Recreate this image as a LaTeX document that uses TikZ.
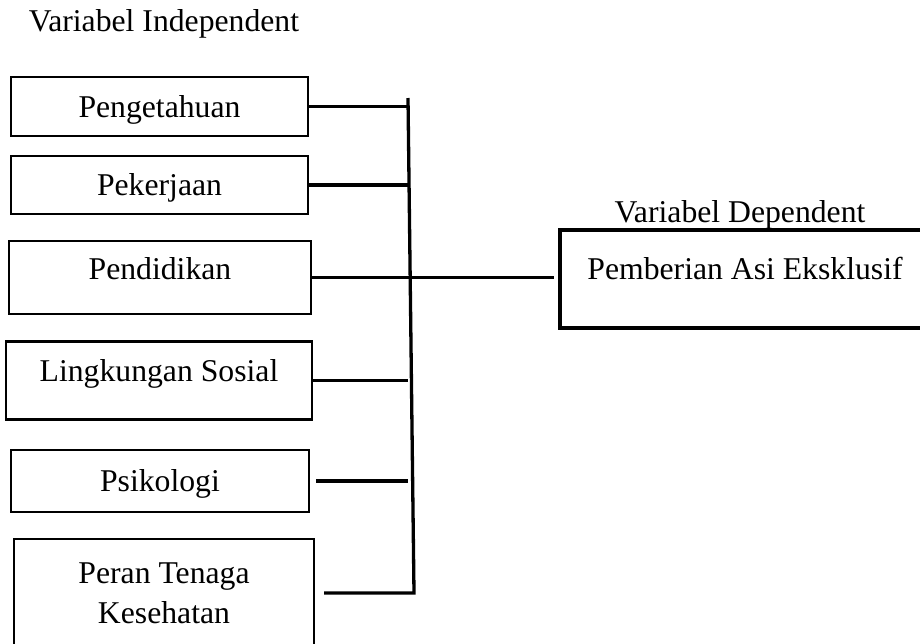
\documentclass[tikz,border=0pt]{standalone}
\usepackage{fontspec}
\setmainfont{Liberation Serif}

\tikzset{
	txt/.style={font=\fontsize{15.85}{20}\selectfont},
	lift/.style={text height=13pt, text depth=#1},
	lift/.default=2.5pt,
	varbox/.style={txt, draw, line width=1.15pt},
	bus/.style={line width=1.65pt}
}

\begin{document}
\begin{tikzpicture}[x=0.5pt, y=-0.5pt]
		\useasboundingbox (0,0) rectangle (920,643);
		\clip (0,0) rectangle (920,643);
		\node[txt, lift] (indep) at (164,21) {Variabel Independent};
		\node[varbox, lift, minimum width=148.5pt, minimum height=29.5pt] (p1) at (159.5,106.5) {Pengetahuan};
		\node[varbox, lift, minimum width=148.5pt, minimum height=29pt] (p2) at (159.5,185) {Pekerjaan};
		\node[varbox, lift=11pt, minimum width=151pt, minimum height=36.5pt] (p3) at (160,277.5) {Pendidikan};
		\node[varbox, lift=12.5pt, minimum width=153pt, minimum height=39pt] (p4) at (159,380.5) {Lingkungan Sosial};
		\node[varbox, lift, minimum width=149pt, minimum height=31pt] (p5) at (160,481) {Psikologi};
		\node[varbox, align=center, minimum width=150pt, minimum height=54pt] (p6) at (164,593) {Peran Tenaga\\Kesehatan};
		\node[txt, lift] (depl) at (740,212) {Variabel Dependent};
		\node[varbox, lift=13pt, line width=2.35pt, minimum width=185pt, minimum height=49pt] (dep) at (745,279) {Pemberian Asi Eksklusif};
		
		\coordinate (top) at (408,98);
		\coordinate (bot) at (414,593);
		\draw[bus, shorten <=4.5pt] (p6.east) -- (bot) -- (top);
		\draw[bus] (p1.east) -- (p1.east -| top);
		\draw[bus] (p2.east) -- (p2.east -| top);
		\draw[bus, shorten >=2pt] (p3.east) -- (p3.east -| dep.west);
		\draw[bus] (p4.east) -- (p4.east -| top);
		\draw[bus, shorten <=3pt] (p5.east) -- (p5.east -| top);
\end{tikzpicture}
\end{document}
